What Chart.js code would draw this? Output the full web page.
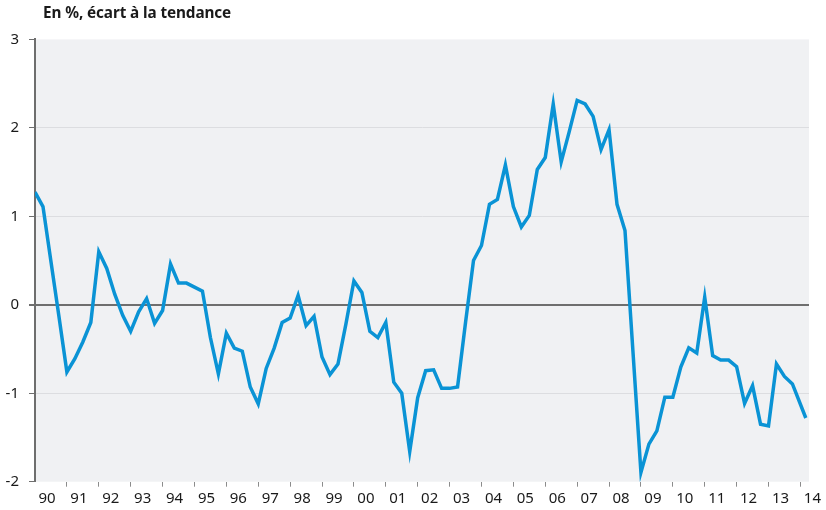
<!DOCTYPE html>
<html>
<head>
<meta charset="utf-8">
<script src="https://cdn.jsdelivr.net/npm/chart.js@4/dist/chart.umd.min.js"></script>
<style>
  body { margin: 0; background: #fff; }
  #wrap { position: relative; width: 826px; height: 510px; }
  #title {
    position: absolute; left: 43px; top: 4px;
    font: bold 15.3px/16px "Noto Sans", sans-serif; color: #1a1a1a;
    letter-spacing: -0.1px;
  }
</style>
</head>
<body>
<div id="wrap">
  <canvas id="chart" width="826" height="510"></canvas>
  <div id="title">En %, écart à la tendance</div>
</div>
<script>
// écart du PIB à sa tendance, données trimestrielles 1990T1 - début 2014
const startYear = 1990;
const values = [
  1.275, 1.11, 0.49, -0.13,
  -0.76, -0.61, -0.42, -0.20,
  0.60, 0.41, 0.12, -0.12,
  -0.30, -0.08, 0.07, -0.21,
  -0.065, 0.46, 0.245, 0.245,
  0.20, 0.155, -0.37, -0.78,
  -0.32, -0.49, -0.525, -0.93,
  -1.12, -0.72, -0.49, -0.20,
  -0.15, 0.105, -0.235, -0.13,
  -0.59, -0.79, -0.67, -0.215,
  0.27, 0.14, -0.30, -0.37,
  -0.20, -0.875, -1.00, -1.66,
  -1.05, -0.745, -0.735, -0.945,
  -0.945, -0.93, -0.20, 0.50,
  0.67, 1.135, 1.19, 1.58,
  1.11, 0.88, 1.01, 1.53,
  1.665, 2.27, 1.615, 1.955,
  2.31, 2.27, 2.13, 1.755,
  1.98, 1.135, 0.84, -0.53,
  -1.895, -1.575, -1.425, -1.045,
  -1.045, -0.705, -0.487, -0.545,
  0.086, -0.575, -0.625, -0.625,
  -0.70, -1.115, -0.915, -1.35,
  -1.37, -0.67, -0.81, -0.895,
  -1.28
];
// dernier point : février 2014
const lastPeriod = 2014.17;
const yearLabels = ['90','91','92','93','94','95','96','97','98','99','00','01','02','03','04','05','06','07','08','09','10','11','12','13','14'];
const yTicks = [-2, -1, 0, 1, 2, 3];

const periods = values.map((v, i) => i < values.length - 1 ? startYear + i / 4 : lastPeriod);
const points = values.map((v, i) => ({ x: periods[i], y: v }));

const tickFont = { family: '"Noto Sans", sans-serif', size: 15 };
const textColor = '#1a1a1a';
const axisGray = '#6e6e6e';

const plotBg = {
  id: 'plotBg',
  beforeDraw(chart) {
    const { ctx, chartArea: a } = chart;
    ctx.save();
    ctx.fillStyle = '#f0f1f3';
    ctx.fillRect(a.left, a.top, a.right - a.left, a.bottom - a.top);
    ctx.restore();
  }
};

new Chart(document.getElementById('chart'), {
  type: 'line',
  data: {
    datasets: [{
      data: points,
      borderColor: '#0a93d5',
      borderWidth: 3.5,
      pointRadius: 0,
      tension: 0,
      fill: false
    }]
  },
  options: {
    responsive: false,
    devicePixelRatio: 1,
    animation: false,
    layout: { padding: { top: 39.4, right: 17, left: 0, bottom: 0 } },
    plugins: { legend: { display: false }, tooltip: { enabled: false } },
    scales: {
      x: {
        type: 'linear',
        min: startYear,
        max: 2014.27,
        afterBuildTicks: s => { s.ticks = yearLabels.map((l, k) => ({ value: startYear + k })); },
        afterFit: s => { s.height = 28.3; },
        ticks: {
          callback: (v, k) => yearLabels[k],
          autoSkip: false,
          maxRotation: 0,
          labelOffset: 12,
          padding: 3,
          font: tickFont,
          color: textColor
        },
        grid: {
          drawOnChartArea: false,
          tickLength: 5,
          tickColor: c => c.index === 0 ? 'rgba(0,0,0,0)' : '#8c8c8c'
        },
        border: { display: false }
      },
      y: {
        min: yTicks[0],
        max: yTicks[yTicks.length - 1],
        afterBuildTicks: s => { s.ticks = yTicks.map(v => ({ value: v })); },
        afterFit: s => { s.width = 35; },
        ticks: { padding: 10, font: tickFont, color: textColor },
        grid: {
          color: c => c.tick.value === 0 ? axisGray : (c.tick.value === 3 || c.tick.value === -2 ? 'rgba(0,0,0,0)' : '#dcdde0'),
          lineWidth: c => c.tick.value === 0 ? 2 : 1,
          tickColor: axisGray,
          tickLength: 6
        },
        border: { color: axisGray, width: 2 }
      }
    }
  },
  plugins: [plotBg]
});
</script>
</body>
</html>
